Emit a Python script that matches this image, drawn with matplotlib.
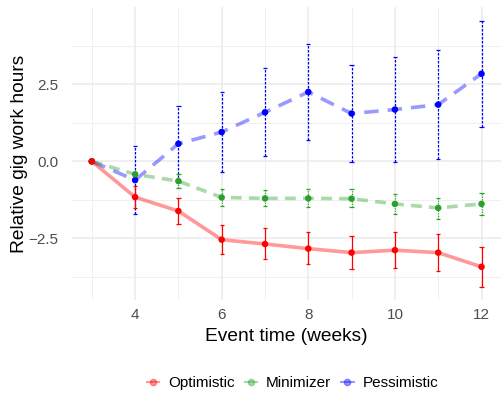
import numpy as np
import matplotlib.pyplot as plt
from matplotlib.lines import Line2D

plt.rcParams['font.family'] = ['Liberation Sans', 'DejaVu Sans']

weeks = [3, 4, 5, 6, 7, 8, 9, 10, 11, 12]

opt_est = [0.0, -1.16, -1.61, -2.54, -2.68, -2.83, -2.96, -2.88, -2.96, -3.42]
opt_lo = [0.0, -1.52, -2.03, -3.00, -3.18, -3.33, -3.50, -3.46, -3.56, -4.07]
opt_hi = [0.0, -0.81, -1.20, -2.05, -2.16, -2.30, -2.42, -2.29, -2.34, -2.77]

min_est = [0.0, -0.42, -0.64, -1.17, -1.20, -1.20, -1.21, -1.38, -1.51, -1.38]
min_lo = [0.0, -0.50, -0.88, -1.45, -1.46, -1.47, -1.47, -1.71, -1.86, -1.74]
min_hi = [0.0, -0.34, -0.40, -0.90, -0.92, -0.90, -0.90, -1.06, -1.18, -1.02]

pes_est = [0.0, -0.61, 0.57, 0.95, 1.59, 2.25, 1.55, 1.68, 1.84, 2.84]
pes_lo = [0.0, -1.71, -0.67, -0.36, 0.16, 0.69, -0.03, -0.01, 0.06, 1.12]
pes_hi = [0.0, 0.50, 1.81, 2.26, 3.03, 3.82, 3.14, 3.37, 3.62, 4.56]

fig = plt.figure(figsize=(5.02, 3.97), dpi=100)
ax = fig.add_axes([0.144, 0.244, 0.854, 0.738])

series = [
    ("Pessimistic", "#0000ff", (0, (4, 2.5)), (0, (2, 1.2)), pes_est, pes_lo, pes_hi),
    ("Minimizer", "#2ca02c", (0, (3, 2)), (0, (1, 1)), min_est, min_lo, min_hi),
    ("Optimistic", "#ff0000", "-", "-", opt_est, opt_lo, opt_hi),
]

x = np.array(weeks)
for name, col, ls, els, est, lo, hi in series:
    est = np.array(est)
    lo = np.array(lo)
    hi = np.array(hi)
    ax.plot(x, est, color=col, alpha=0.4, lw=2.6, ls=ls, zorder=2)
    m = x > 3
    ax.vlines(x[m], lo[m], hi[m], color=col, lw=0.9, linestyles=els, zorder=3)
    ax.hlines(lo[m], x[m] - 0.05, x[m] + 0.05, color=col, lw=0.9, zorder=3)
    ax.hlines(hi[m], x[m] - 0.05, x[m] + 0.05, color=col, lw=0.9, zorder=3)
    ax.scatter(x, est, color=col, s=22, zorder=4, edgecolors="none")

ax.set_xlim(2.55, 12.45)
ax.set_ylim(-4.5, 5.0)
ax.set_xticks([4, 6, 8, 10, 12])
ax.set_xticks([3, 5, 7, 9, 11], minor=True)
ax.set_yticks([-2.5, 0.0, 2.5])
ax.set_yticklabels(["\u22122.5", "0.0", "2.5"])
ax.set_yticks([-3.75, -1.25, 1.25, 3.75], minor=True)
ax.grid(True, which="major", color="#ebebeb", lw=1.1)
ax.grid(True, which="minor", color="#f0f0f0", lw=0.7)
ax.set_axisbelow(True)
for s in ax.spines.values():
    s.set_visible(False)
ax.tick_params(which="both", length=0, labelsize=11, labelcolor="#4d4d4d")
ax.tick_params(axis="y", pad=10)
ax.tick_params(axis="x", pad=6)
ax.set_xlabel("Event time (weeks)", fontsize=13.75, labelpad=4)
ax.set_ylabel("Relative gig work hours", fontsize=13.75, labelpad=0.5)

handles = [
    Line2D([], [], color="#ff0000", marker="o", ms=4.5, lw=1.5),
    Line2D([], [], color="#2ca02c", marker="o", ms=4.5, lw=1.5),
    Line2D([], [], color="#0000ff", marker="o", ms=4.5, lw=1.5),
]
leg = fig.legend(handles, ["Optimistic", "Minimizer", "Pessimistic"], loc="center",
                 bbox_to_anchor=(0.583, 0.035), ncol=3, frameon=False, fontsize=11,
                 handlelength=0.8, handletextpad=0.6, columnspacing=0.65)
for line in leg.get_lines():
    line.set_alpha(0.4)

fig.savefig("out.png", dpi=100)
